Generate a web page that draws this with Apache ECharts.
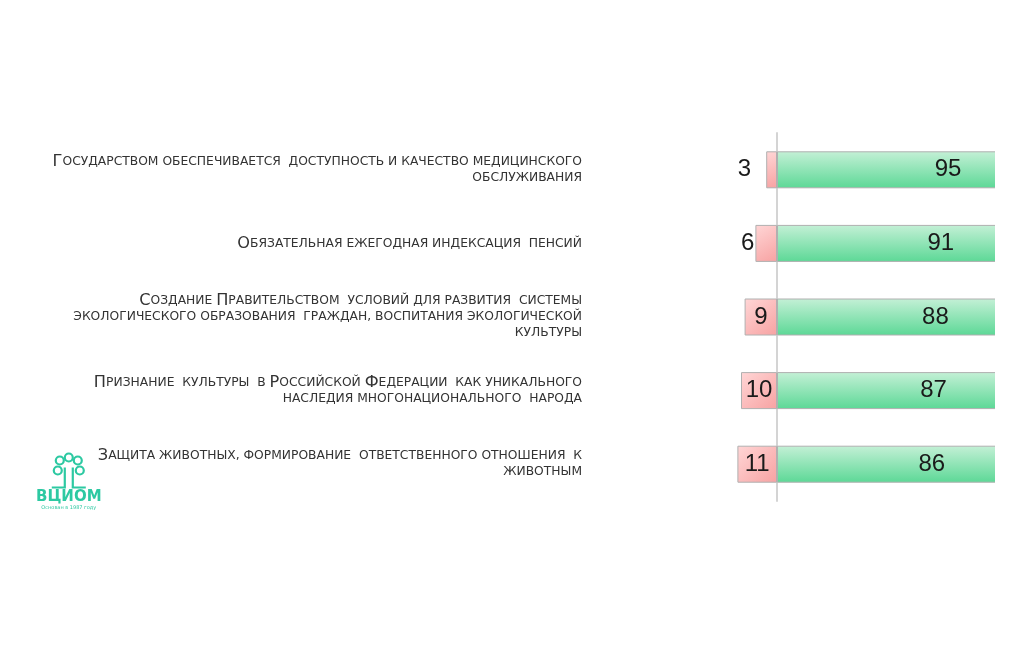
<!DOCTYPE html>
<html>
<head>
<meta charset="utf-8">
<script src="https://cdn.jsdelivr.net/npm/echarts@6/dist/echarts.min.js"></script>
<style>
html,body{margin:0;padding:0;background:#fff;overflow:hidden;}
#clip{position:absolute;left:0;top:0;width:995px;height:672px;overflow:hidden;}
#chart{position:absolute;left:0;top:0;width:1200px;height:672px;}
</style>
</head>
<body>
<div id="clip"><div id="chart"></div></div>
<script>
const categories = [
  "Государством обеспечивается  доступность и качество медицинского\nобслуживания",
  "Обязательная ежегодная индексация  пенсий",
  "Создание Правительством  условий для развития  системы\nэкологического образования  граждан, воспитания экологической\nкультуры",
  "Признание  культуры  в Российской Федерации  как уникального\nнаследия многонационального  народа",
  "Защита животных, формирование  ответственного отношения  к\nживотным"
];
const disagree = [3, 6, 9, 10, 11];
const agree = [95, 91, 88, 87, 86];

function smallCaps(text) {
  return text.split('\n').map(function (line) {
    let out = '', cur = null, buf = '';
    for (const ch of line) {
      const isUp = ch !== ch.toLowerCase() && ch === ch.toUpperCase();
      const cls = isUp ? 'b' : 's';
      if (cls !== cur) {
        if (buf) out += '{' + cur + '|' + buf + '}';
        cur = cls; buf = '';
      }
      buf += ch.toUpperCase();
    }
    if (buf) out += '{' + cur + '|' + buf + '}';
    return out;
  }).join('\n');
}

const chart = echarts.init(document.getElementById('chart'));
const valueFont = {fontFamily: 'Liberation Sans', fontSize: 24, color: '#1a1a1a'};
const labelFont = 'DejaVu Sans';

const option = {
  animation: false,
  grid: {left: 705, width: 432, top: 133, bottom: 171},
  xAxis: {
    type: 'value', min: -20, max: 100, show: false, splitLine: {show: false}
  },
  yAxis: {
    type: 'category', data: categories, inverse: true,
    axisTick: {show: false},
    axisLine: {show: true, lineStyle: {color: '#d4d4d4', width: 2}},
    axisLabel: {
      margin: 123, align: 'right',
      formatter: smallCaps,
      lineHeight: 16,
      rich: {
        b: {fontFamily: labelFont, fontSize: 16.2, color: '#333', lineHeight: 16},
        s: {fontFamily: labelFont, fontSize: 12.3, color: '#333', lineHeight: 16}
      }
    }
  },
  series: [
    {
      type: 'bar', stack: 'total', barWidth: 37,
      data: disagree.map(function (v) {
        return {
          value: -v,
          label: v < 5 ? {position: 'left', distance: 15}
               : v < 8 ? {position: 'left', distance: 1}
               : {position: 'inside'}
        };
      }),
      itemStyle: {
        borderColor: '#b0b0b0', borderWidth: 1,
        color: new echarts.graphic.LinearGradient(0, 0, 1, 1, [
          {offset: 0, color: '#ffd6d6'}, {offset: 1, color: '#f7a2a2'}
        ])
      },
      label: Object.assign({show: true, formatter: function (p) { return Math.abs(p.value); }}, valueFont)
    },
    {
      type: 'bar', stack: 'total', barWidth: 37,
      data: agree,
      itemStyle: {
        borderColor: '#b0b0b0', borderWidth: 1,
        color: new echarts.graphic.LinearGradient(0, 1, 0, 0, [
          {offset: 0, color: '#5cd896'}, {offset: 1, color: '#c4f0d6'}
        ])
      },
      label: Object.assign({show: true, position: 'inside'}, valueFont)
    }
  ],
  graphic: [
    {type: 'group', left: 36, top: 451, children: [
      {type: 'circle', shape: {cx: 22, cy: 7, r: 4}, style: {fill: 'none', stroke: '#2dc9a2', lineWidth: 2.2}},
      {type: 'circle', shape: {cx: 31, cy: 4, r: 4}, style: {fill: 'none', stroke: '#2dc9a2', lineWidth: 2.2}},
      {type: 'circle', shape: {cx: 40, cy: 7, r: 4}, style: {fill: 'none', stroke: '#2dc9a2', lineWidth: 2.2}},
      {type: 'circle', shape: {cx: 20, cy: 17, r: 4}, style: {fill: 'none', stroke: '#2dc9a2', lineWidth: 2.2}},
      {type: 'circle', shape: {cx: 42, cy: 17, r: 4}, style: {fill: 'none', stroke: '#2dc9a2', lineWidth: 2.2}},
      {type: 'polyline', shape: {points: [[27, 14], [27, 34], [14, 34]]}, style: {fill: 'none', stroke: '#2dc9a2', lineWidth: 2.2}},
      {type: 'polyline', shape: {points: [[35, 14], [35, 34], [48, 34]]}, style: {fill: 'none', stroke: '#2dc9a2', lineWidth: 2.2}},
      {type: 'text', x: 31, y: 36, style: {text: 'ВЦИОМ', fill: '#2dc9a2', font: 'bold 15px "DejaVu Sans"', align: 'center'}},
      {type: 'text', x: 31, y: 52, style: {text: 'Основан в 1987 году', fill: '#2dc9a2', font: '5px "DejaVu Sans"', align: 'center'}}
    ]}
  ]
};
chart.setOption(option);
</script>
</body>
</html>
